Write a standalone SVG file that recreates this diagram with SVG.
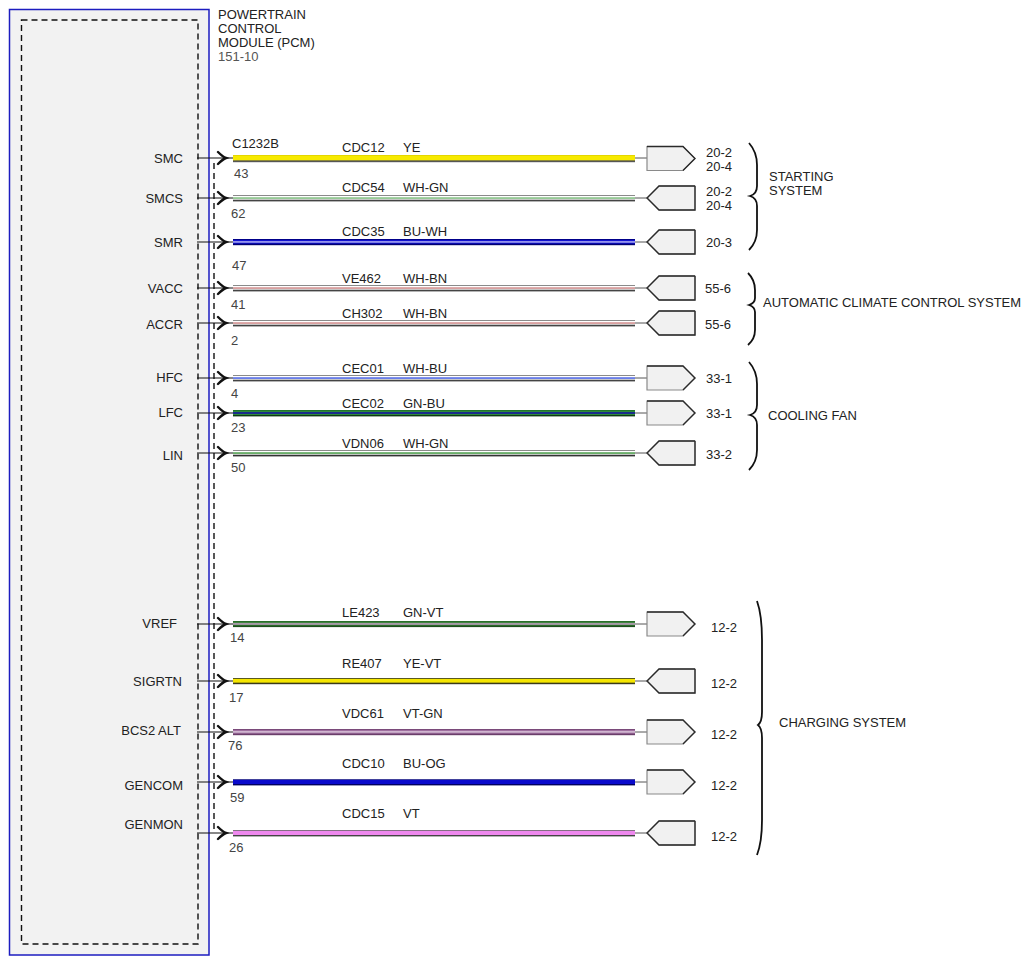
<svg xmlns="http://www.w3.org/2000/svg" width="1033" height="965" viewBox="0 0 1033 965">
<style>
text{font-family:"Liberation Sans",Arial,sans-serif;font-size:13px;fill:#222}
.sig{text-anchor:end}
.pin{fill:#444}
.gr{fill:#555}
.lead{stroke:#111;stroke-width:1.2;fill:none}
.chev{stroke:#111;stroke-width:2.4;fill:none;stroke-linecap:round}
.tail{stroke:#555;stroke-width:1;fill:none}
.cf{fill:#f1f1f1;stroke:#8a8a8a;stroke-width:1.2}
.cd{fill:none;stroke:#2a2a2a;stroke-width:1.3}
.brace{fill:none;stroke:#111;stroke-width:1.8}
.dash{fill:none;stroke:#111;stroke-width:1.4;stroke-dasharray:6 4}
</style>
<rect width="1033" height="965" fill="#ffffff"/>
<g id="pcm">
<rect x="9.5" y="9.5" width="199.5" height="945.5" fill="#f2f2f2" stroke="#1c1cc0" stroke-width="1.5"/>
<rect x="21.5" y="20" width="176.5" height="924" class="dash"/>
<line x1="214" y1="163" x2="214" y2="830" class="dash" stroke-width="1.2"/>
<text x="218" y="19">POWERTRAIN</text>
<text x="218" y="33">CONTROL</text>
<text x="218" y="47">MODULE (PCM)</text>
<text x="218" y="61" class="gr">151-10</text>
<text x="232" y="148">C1232B</text>
<text class="sig" x="183" y="162.5">SMC</text>
<text class="sig" x="183" y="202.5">SMCS</text>
<text class="sig" x="183" y="246.5">SMR</text>
<text class="sig" x="183" y="292.5">VACC</text>
<text class="sig" x="183" y="328.5">ACCR</text>
<text class="sig" x="183" y="381.5">HFC</text>
<text class="sig" x="183" y="416.5">LFC</text>
<text class="sig" x="183" y="459.5">LIN</text>
<text class="sig" x="177" y="627.5">VREF</text>
<text class="sig" x="182" y="685.5">SIGRTN</text>
<text class="sig" x="181" y="734.5">BCS2 ALT</text>
<text class="sig" x="183" y="789.5">GENCOM</text>
<text class="sig" x="183" y="828.5">GENMON</text>
</g>
<g id="connectors">
<g id="leads">
<path class="lead" d="M197,158H233M197,198H233M197,242H233M197,288H233M197,323H233M197,378H233M197,413H233M197,453H233M197,624H233M197,681H233M197,732H233M197,782H233M197,833H233"/>
<path class="chev" d="M218,152Q223,157 226,158Q223,159 218,164M218,192Q223,197 226,198Q223,199 218,204M218,236Q223,241 226,242Q223,243 218,248M218,282Q223,287 226,288Q223,289 218,294M218,317Q223,322 226,323Q223,324 218,329M218,372Q223,377 226,378Q223,379 218,384M218,407Q223,412 226,413Q223,414 218,419M218,447Q223,452 226,453Q223,454 218,459M218,618Q223,623 226,624Q223,625 218,630M218,675Q223,680 226,681Q223,682 218,687M218,726Q223,731 226,732Q223,733 218,738M218,776Q223,781 226,782Q223,783 218,788M218,827Q223,832 226,833Q223,834 218,839"/>
<path class="tail" d="M635,158H647M635,198H647M635,242H647M635,288H647M635,323H647M635,378H647M635,413H647M635,453H647M635,624H647M635,681H647M635,732H647M635,782H647M635,833H647"/>
</g>
<g id="w-CDC12"><rect x="233" y="155" width="402" height="6" fill="#d8c800"/><rect x="233" y="155.6" width="402" height="4.8" fill="#f7ea00"/><rect x="233" y="160.4" width="402" height="1.8" fill="#555"/></g>
<g id="w-CDC54"><rect x="233" y="195" width="402" height="6" fill="#8a8a8a"/><rect x="233" y="196" width="402" height="3.8" fill="#fff"/><rect x="233" y="197.4" width="402" height="1.3" fill="#6ab46a"/><rect x="233" y="199.8" width="402" height="1.6" fill="#444"/></g>
<g id="w-CDC35"><rect x="233" y="239" width="402" height="6" fill="#00008a"/><rect x="233" y="240" width="402" height="3.8" fill="#1414d0"/><rect x="233" y="241.4" width="402" height="1.1" fill="#e8e8ff"/><rect x="233" y="243.8" width="402" height="1.4" fill="#000070"/></g>
<g id="w-VE462"><rect x="233" y="285" width="402" height="6" fill="#8a8a8a"/><rect x="233" y="286" width="402" height="3.8" fill="#fff"/><rect x="233" y="287.4" width="402" height="1.3" fill="#c87878"/><rect x="233" y="289.8" width="402" height="1.6" fill="#444"/></g>
<g id="w-CH302"><rect x="233" y="320" width="402" height="6" fill="#8a8a8a"/><rect x="233" y="321" width="402" height="3.8" fill="#fff"/><rect x="233" y="322.4" width="402" height="1.3" fill="#c87878"/><rect x="233" y="324.8" width="402" height="1.6" fill="#444"/></g>
<g id="w-CEC01"><rect x="233" y="375" width="402" height="6" fill="#8a8a8a"/><rect x="233" y="376" width="402" height="3.8" fill="#fff"/><rect x="233" y="377.4" width="402" height="1.3" fill="#2a48e0"/><rect x="233" y="379.8" width="402" height="1.6" fill="#444"/></g>
<g id="w-CEC02"><rect x="233" y="410" width="402" height="6" fill="#1f6e2a"/><rect x="233" y="410.8" width="402" height="4.4" fill="#2e8a3a"/><rect x="233" y="412" width="402" height="2" fill="#1a2c8c"/><rect x="233" y="415" width="402" height="1.4" fill="#0e3a14"/></g>
<g id="w-VDN06"><rect x="233" y="450" width="402" height="6" fill="#8a8a8a"/><rect x="233" y="451" width="402" height="3.8" fill="#fff"/><rect x="233" y="452.4" width="402" height="1.3" fill="#2a8a2a"/><rect x="233" y="454.8" width="402" height="1.6" fill="#333"/></g>
<g id="w-LE423"><rect x="233" y="621" width="402" height="6" fill="#2a6e2a"/><rect x="233" y="622.2" width="402" height="3.4" fill="#3a8a3a"/><rect x="233" y="622.9" width="402" height="2" fill="#a898a8"/><rect x="233" y="625.6" width="402" height="1.5" fill="#1e4e1e"/></g>
<g id="w-RE407"><rect x="233" y="678" width="402" height="6" fill="#5a5a20"/><rect x="233" y="679" width="402" height="3.8" fill="#f5e600"/><rect x="233" y="682.8" width="402" height="1.4" fill="#3a3a18"/></g>
<g id="w-VDC61"><rect x="233" y="729" width="402" height="6" fill="#7a4a7a"/><rect x="233" y="730" width="402" height="3.8" fill="#a070a0"/><rect x="233" y="731.3" width="402" height="1.2" fill="#e4d4e4"/><rect x="233" y="733.8" width="402" height="1.4" fill="#6a3e6a"/></g>
<g id="w-CDC10"><rect x="233" y="779" width="402" height="6" fill="#505090"/><rect x="233" y="779.8" width="402" height="4.2" fill="#0a0acc"/><rect x="233" y="784" width="402" height="1.4" fill="#000060"/></g>
<g id="w-CDC15"><rect x="233" y="830" width="402" height="6" fill="#6a6a6a"/><rect x="233" y="830.8" width="402" height="4.2" fill="#ee88ee"/><rect x="233" y="835" width="402" height="1.4" fill="#444"/></g>
<g id="wire-labels">
<text x="342" y="151.5">CDC12</text><text x="403" y="151.5">YE</text>
<text x="342" y="191.5">CDC54</text><text x="403" y="191.5">WH-GN</text>
<text x="342" y="235.5">CDC35</text><text x="403" y="235.5">BU-WH</text>
<text x="342" y="282.5">VE462</text><text x="403" y="282.5">WH-BN</text>
<text x="342" y="317.5">CH302</text><text x="403" y="317.5">WH-BN</text>
<text x="342" y="372.5">CEC01</text><text x="403" y="372.5">WH-BU</text>
<text x="342" y="407.5">CEC02</text><text x="403" y="407.5">GN-BU</text>
<text x="342" y="447.5">VDN06</text><text x="403" y="447.5">WH-GN</text>
<text x="342" y="616.5">LE423</text><text x="403" y="616.5">GN-VT</text>
<text x="342" y="667.5">RE407</text><text x="403" y="667.5">YE-VT</text>
<text x="342" y="717.5">VDC61</text><text x="403" y="717.5">VT-GN</text>
<text x="342" y="767.5">CDC10</text><text x="403" y="767.5">BU-OG</text>
<text x="342" y="817.5">CDC15</text><text x="403" y="817.5">VT</text>
<text class="pin" x="234" y="177.5">43</text>
<text class="pin" x="231" y="217.5">62</text>
<text class="pin" x="232" y="269.5">47</text>
<text class="pin" x="231" y="308.5">41</text>
<text class="pin" x="231" y="344.5">2</text>
<text class="pin" x="231" y="397.5">4</text>
<text class="pin" x="231" y="431.5">23</text>
<text class="pin" x="231" y="471.5">50</text>
<text class="pin" x="230" y="641.5">14</text>
<text class="pin" x="229" y="701.5">17</text>
<text class="pin" x="228" y="749.5">76</text>
<text class="pin" x="230" y="801.5">59</text>
<text class="pin" x="229" y="851.5">26</text>
</g>
</g>
<g id="conn-smc"><path class="cf" d="M647,146.5H683L695,158.5L683,170.5H647Z"/><path class="cd" d="M647,146.5H683L695,158.5L683,170.5"/><text x="706" y="157">20-2</text><text x="706" y="170.5">20-4</text></g>
<g id="conn-smcs"><path class="cf" d="M659,186H695V210H659L647,198Z"/><path class="cd" d="M695,186H659L647,198L659,210H695V186"/><text x="706" y="195.5">20-2</text><text x="706" y="209.5">20-4</text></g>
<g id="conn-smr"><path class="cf" d="M659,230H695V254H659L647,242Z"/><path class="cd" d="M695,230H659L647,242L659,254H695V230"/><text x="706" y="247">20-3</text></g>
<g id="conn-vacc"><path class="cf" d="M659,276H695V300H659L647,288Z"/><path class="cd" d="M695,276H659L647,288L659,300H695V276"/><text x="705" y="292.5">55-6</text></g>
<g id="conn-accr"><path class="cf" d="M659,311H695V335H659L647,323Z"/><path class="cd" d="M695,311H659L647,323L659,335H695V311"/><text x="705" y="328.5">55-6</text></g>
<g id="conn-hfc"><path class="cf" d="M647,366H683L695,378L683,390H647Z"/><path class="cd" d="M647,366H683L695,378L683,390"/><text x="706" y="382.5">33-1</text></g>
<g id="conn-lfc"><path class="cf" d="M647,401H683L695,413L683,425H647Z"/><path class="cd" d="M647,401H683L695,413L683,425"/><text x="706" y="417.5">33-1</text></g>
<g id="conn-lin"><path class="cf" d="M659,441H695V465H659L647,453Z"/><path class="cd" d="M695,441H659L647,453L659,465H695V441"/><text x="706" y="458.5">33-2</text></g>
<g id="conn-vref"><path class="cf" d="M647,612H683L695,624L683,636H647Z"/><path class="cd" d="M647,612H683L695,624L683,636"/><text x="711" y="631.5">12-2</text></g>
<g id="conn-sigrtn"><path class="cf" d="M659,669H695V693H659L647,681Z"/><path class="cd" d="M695,669H659L647,681L659,693H695V669"/><text x="711" y="687.5">12-2</text></g>
<g id="conn-bcs2"><path class="cf" d="M647,720H683L695,732L683,744H647Z"/><path class="cd" d="M647,720H683L695,732L683,744"/><text x="711" y="738.5">12-2</text></g>
<g id="conn-gencom"><path class="cf" d="M647,770H683L695,782L683,794H647Z"/><path class="cd" d="M647,770H683L695,782L683,794"/><text x="711" y="789.5">12-2</text></g>
<g id="conn-genmon"><path class="cf" d="M659,821H695V845H659L647,833Z"/><path class="cd" d="M695,821H659L647,833L659,845H695V821"/><text x="711" y="840.5">12-2</text></g>
<g id="sys-starting"><path class="brace" d="M749,143Q757,152 757,165L757,186Q757,194 750,196Q757,198 757,206L757,230Q757,242 749,250"/><text x="769" y="180.5">STARTING</text><text x="769" y="194.5">SYSTEM</text></g>
<g id="sys-acc"><path class="brace" d="M748,273Q755,280 755,290L755,298Q755,303 749,305Q755,307 755,312L755,330Q755,339 748,345"/><text x="763" y="306.5">AUTOMATIC CLIMATE CONTROL SYSTEM</text></g>
<g id="sys-cooling"><path class="brace" d="M749,362Q757,371 757,384L757,405Q757,413 750,415Q757,417 757,425L757,450Q757,462 749,470"/><text x="768" y="419.5">COOLING FAN</text></g>
<g id="sys-charging"><path class="brace" d="M757,601Q762,615 762,640L762,712Q762,722 758,725Q762,728 762,738L762,820Q762,842 757,855"/><text x="779" y="726.5">CHARGING SYSTEM</text></g>
</svg>
